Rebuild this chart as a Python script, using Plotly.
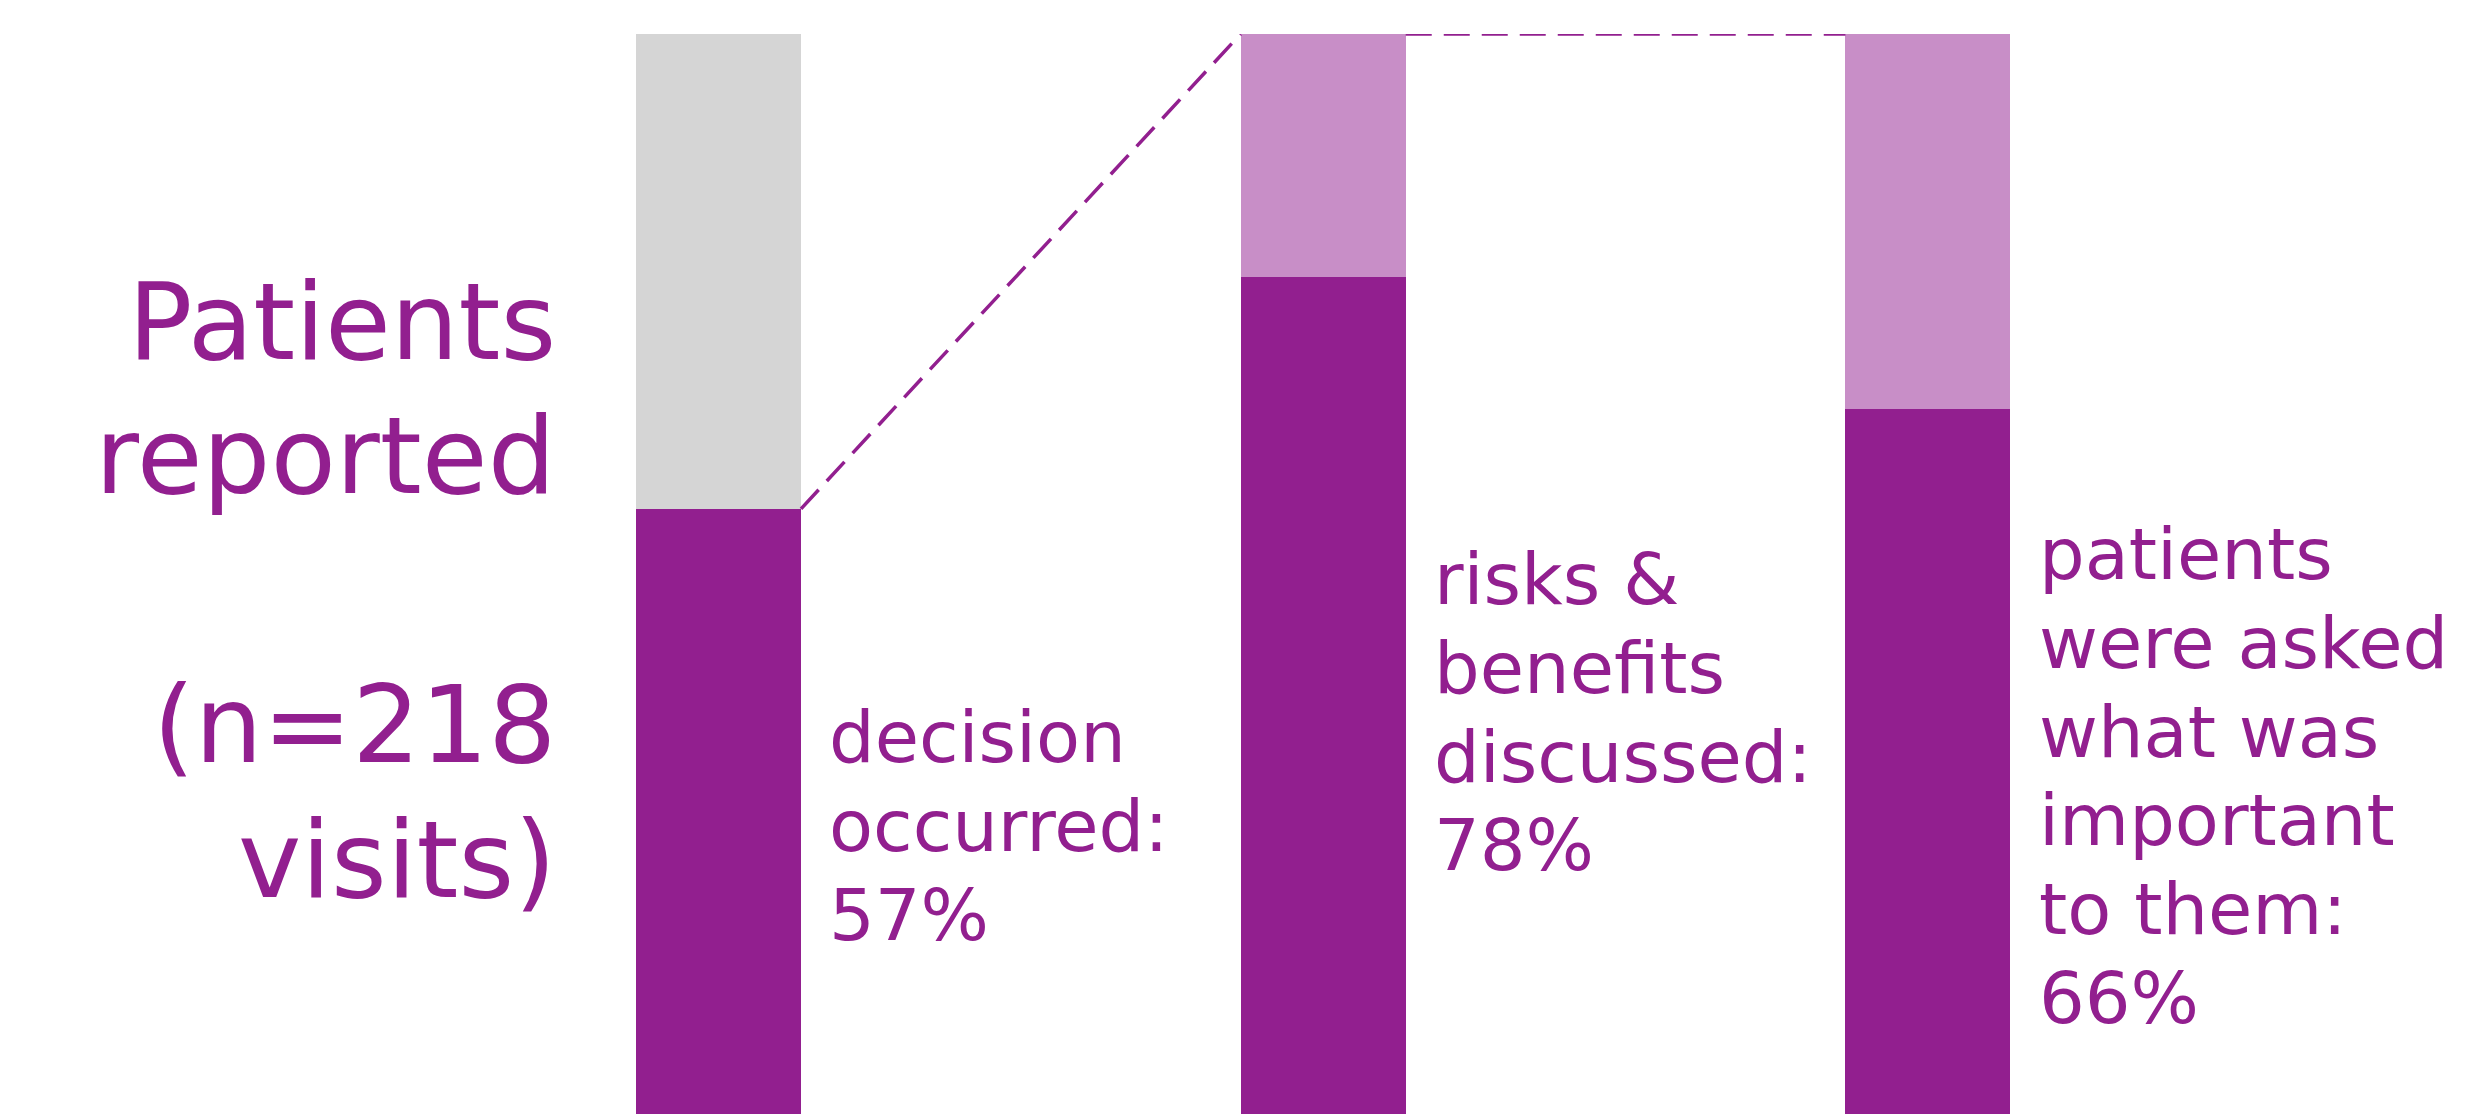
import plotly.graph_objects as go

# ---- data ----
categories = ["decision occurred", "risks & benefits discussed", "patients were asked what was important to them"]
yes_pct = [57, 78, 66]
rest_pct = [100 - v for v in yes_pct]
label_lines = [
    ["decision", "occurred:", "57%"],
    ["risks &", "benefits", "discussed:", "78%"],
    ["patients", "were asked", "what was", "important", "to them:", "66%"],
]
title_lines = ["Patients", "reported", "", "(n=218", "visits)"]

# ---- styles / layout ----
PURPLE = "#921F8F"
LIGHT_PURPLE = "#C88EC7"
GRAY = "#D5D5D5"
FONT = "DejaVu Sans"
BAR_W = 0.273
W, H = 2471, 1114
TOP = 34            # pixel of plot-area top
LABEL_FS = 72
LABEL_LH = 88.8     # line pitch of bar labels (px)
TITLE_FS = 107
TITLE_LH = 134.5
label_first_baseline = [762, 604, 579]
title_first_baseline = 359


def paper_y_for_baseline(baseline_px, fs):
    center_px = baseline_px - 0.346 * fs
    return (H - center_px) / (H - TOP)


fig = go.Figure()
fig.add_trace(go.Bar(x=categories, y=yes_pct, marker=dict(color=PURPLE, line=dict(width=0)),
                     width=BAR_W, hoverinfo="skip"))
fig.add_trace(go.Bar(x=categories, y=rest_pct,
                     marker=dict(color=[GRAY, LIGHT_PURPLE, LIGHT_PURPLE], line=dict(width=0)),
                     width=BAR_W, hoverinfo="skip"))

# labels to the right of each bar (one annotation per line for exact line pitch)
for i, lines in enumerate(label_lines):
    for k, line in enumerate(lines):
        fig.add_annotation(x=i, xref="x", yref="paper",
                           y=paper_y_for_baseline(label_first_baseline[i] + k * LABEL_LH, LABEL_FS),
                           text=line, showarrow=False, xanchor="left", yanchor="middle",
                           align="left", xshift=109,
                           font=dict(family=FONT, size=LABEL_FS, color=PURPLE))

# side title (right aligned)
for k, line in enumerate(title_lines):
    if not line:
        continue
    fig.add_annotation(x=558 / W, xref="paper", yref="paper",
                       y=paper_y_for_baseline(title_first_baseline + k * TITLE_LH, TITLE_FS),
                       text=line, showarrow=False, xanchor="right", yanchor="middle",
                       align="right", font=dict(family=FONT, size=TITLE_FS, color=PURPLE))

# dashed connector lines
dash_line = dict(color=PURPLE, width=3.5, dash="26px,12px")
fig.add_shape(type="line", xref="x", yref="y", x0=0 + BAR_W / 2, y0=yes_pct[0],
              x1=1 - BAR_W / 2, y1=100, line=dash_line)
fig.add_shape(type="line", xref="x", yref="y", x0=1 + BAR_W / 2, y0=100,
              x1=2 - BAR_W / 2, y1=100, line=dash_line)

fig.update_layout(
    barmode="stack",
    width=W, height=H,
    margin=dict(l=0, r=0, t=TOP, b=0, pad=0),
    paper_bgcolor="white", plot_bgcolor="white",
    showlegend=False, hovermode=False,
    xaxis=dict(type="category", range=[-1.188, 2.898], visible=False, fixedrange=True),
    yaxis=dict(range=[2.2, 100], visible=False, fixedrange=True),
)

fig.write_html("out.html", config={"displayModeBar": False})
